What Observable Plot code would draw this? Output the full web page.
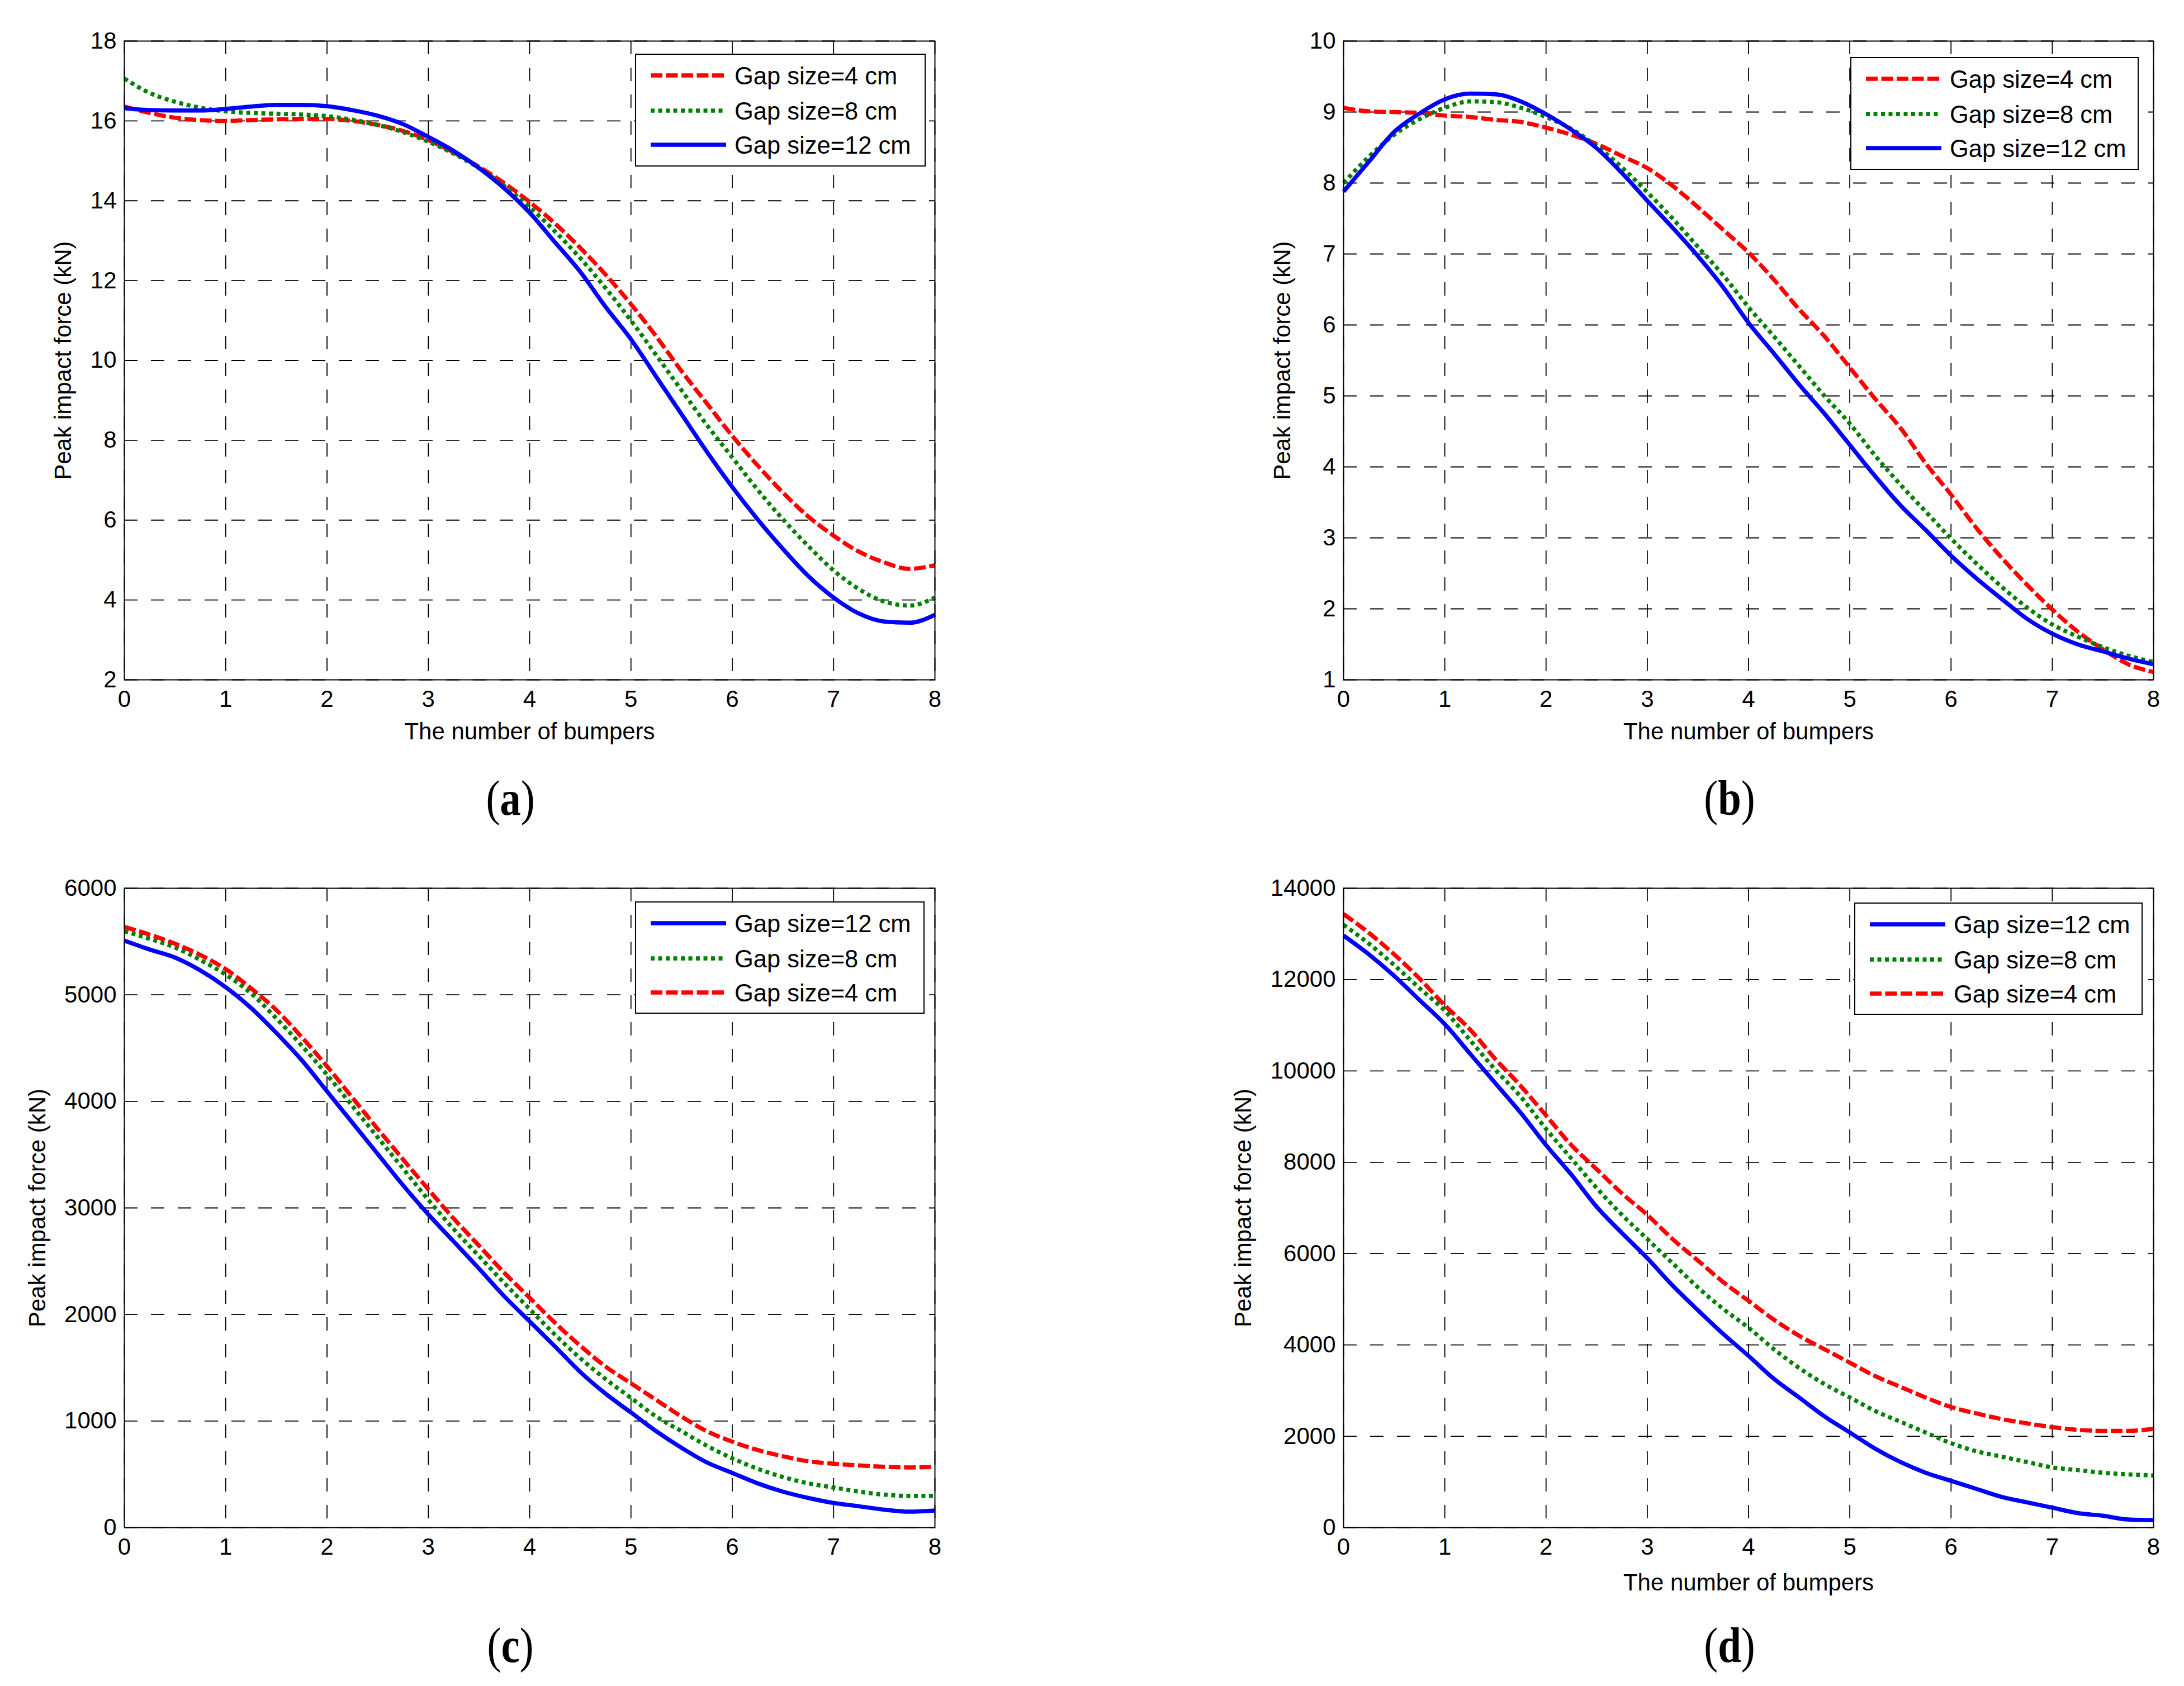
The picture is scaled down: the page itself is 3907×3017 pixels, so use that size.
<!DOCTYPE html>
<html><head><meta charset="utf-8">
<script src="https://cdn.jsdelivr.net/npm/d3@7"></script>
<script src="https://cdn.jsdelivr.net/npm/@observablehq/plot@0.6"></script>
<style>
html,body{margin:0;padding:0;background:#fff;}
#root{position:relative;width:3907px;height:3017px;background:#fff;overflow:hidden;}
#root > .panel{position:absolute;}
#root > svg.overlay{position:absolute;left:0;top:0;pointer-events:none;}
</style></head><body><div id="root"></div>
<script>
// ---------- data ----------
const xs = [0,0.25,0.5,0.75,1,1.25,1.5,1.75,2,2.25,2.5,2.75,3,3.25,3.5,3.75,4,4.25,4.5,4.75,5,5.25,5.5,5.75,6,6.25,6.5,6.75,7,7.25,7.5,7.75,8];
const xTicks = [0,1,2,3,4,5,6,7,8];

// (a)
const aGap4  = [16.36,16.2,16.08,16.02,16.0,16.02,16.04,16.05,16.05,16.0,15.9,15.75,15.52,15.21,14.85,14.44,13.97,13.43,12.82,12.15,11.41,10.6,9.73,8.92,8.11,7.37,6.69,6.09,5.61,5.21,4.94,4.78,4.87];
const aGap8  = [17.06,16.7,16.48,16.33,16.24,16.2,16.18,16.16,16.12,16.03,15.9,15.72,15.48,15.18,14.82,14.37,13.84,13.23,12.56,11.81,11.0,10.13,9.25,8.38,7.57,6.76,6.02,5.35,4.74,4.27,3.96,3.86,4.06];
const aGap12 = [16.32,16.27,16.26,16.26,16.3,16.36,16.4,16.4,16.37,16.27,16.13,15.92,15.6,15.25,14.82,14.31,13.7,12.96,12.22,11.34,10.53,9.59,8.65,7.71,6.83,6.02,5.28,4.6,4.06,3.66,3.46,3.43,3.63];
const aYTicks = [2,4,6,8,10,12,14,16,18];

// (b)
const bGap4  = [9.06,9.01,9.0,8.99,8.95,8.93,8.89,8.86,8.78,8.68,8.55,8.38,8.21,7.96,7.66,7.34,7.02,6.64,6.22,5.84,5.40,4.96,4.55,4.05,3.61,3.14,2.72,2.34,1.99,1.68,1.43,1.22,1.11];
const bGap8  = [8.0,8.37,8.68,8.9,9.06,9.15,9.14,9.06,8.93,8.76,8.52,8.22,7.87,7.5,7.1,6.7,6.25,5.84,5.42,5.0,4.61,4.16,3.75,3.37,2.99,2.64,2.31,2.02,1.78,1.61,1.46,1.34,1.25];
const bGap12 = [7.88,8.3,8.72,8.98,9.18,9.26,9.25,9.15,8.97,8.75,8.49,8.14,7.75,7.37,6.97,6.53,6.03,5.6,5.16,4.75,4.31,3.87,3.46,3.11,2.75,2.43,2.14,1.86,1.65,1.5,1.4,1.3,1.22];
const bYTicks = [1,2,3,4,5,6,7,8,9,10];

// (c)
const cGap12 = [5508,5425,5350,5229,5072,4877,4642,4387,4094,3800,3507,3213,2939,2685,2431,2170,1935,1700,1460,1256,1080,904,748,611,513,415,337,278,231,200,168,149,160];
const cGap8  = [5596,5525,5444,5327,5190,5014,4779,4524,4250,3957,3663,3370,3076,2802,2548,2294,2050,1810,1589,1393,1217,1041,904,767,650,552,474,415,376,337,309,297,297];
const cGap4  = [5637,5565,5480,5374,5241,5061,4857,4603,4329,4035,3742,3456,3174,2900,2646,2391,2157,1922,1706,1511,1354,1198,1041,904,806,728,669,622,599,583,571,564,571];
const cYTicks = [0,1000,2000,3000,4000,5000,6000];

// (d)
const dGap12 = [12965,12553,12082,11553,11024,10376,9729,9082,8376,7729,7024,6450,5900,5300,4760,4240,3760,3259,2847,2435,2082,1729,1435,1200,1024,847,671,553,435,318,259,176,165];
const dGap8  = [13200,12788,12318,11812,11318,10671,10024,9435,8729,8082,7435,6847,6318,5788,5259,4788,4376,3906,3494,3141,2850,2553,2318,2082,1847,1671,1553,1435,1318,1259,1200,1165,1141];
const dGap4  = [13435,13024,12553,12024,11435,10906,10259,9671,9024,8376,7847,7318,6847,6318,5847,5376,4965,4553,4200,3906,3612,3318,3082,2847,2640,2500,2376,2282,2200,2141,2118,2118,2165];
const dYTicks = [0,2000,4000,6000,8000,10000,12000,14000];

const seriesNames = {g4: "Gap size=4 cm", g8: "Gap size=8 cm", g12: "Gap size=12 cm"};
const xLabel = "The number of bumpers";
const yLabel = "Peak impact force (kN)";

// ---------- styles / layout ----------
const seriesStyle = {
  g4:  {stroke: "#ff0000", dash: "21,6.5"},
  g8:  {stroke: "#008000", dash: "7,6.5"},
  g12: {stroke: "#0000ff", dash: null}
};
const FONT = "'Liberation Sans', Arial, Helvetica, sans-serif";

const panels = [
  {tag: "a", series: {g4: aGap4, g8: aGap8, g12: aGap12}, order: ["g4","g8","g12"], yDomain: [2,18], yTicks: aYTicks,
   left: 0, top: 0, w: 1954, h: 1508, m: {l: 222, t: 73, r: 282, b: 292}, ylabDx: -109, xlabDy: 93,
   legend: {x: 1137, y: 97, w: 518, h: 200}, cap: {x: 913, y: 1458}},
  {tag: "b", series: {g4: bGap4, g8: bGap8, g12: bGap12}, order: ["g4","g8","g12"], yDomain: [1,10], yTicks: bYTicks,
   left: 1954, top: 0, w: 1953, h: 1508, m: {l: 449, t: 73, r: 55, b: 292}, ylabDx: -109, xlabDy: 93,
   legend: {x: 3311, y: 103, w: 514, h: 200}, cap: {x: 3094, y: 1458}},
  {tag: "c", series: {g12: cGap12, g8: cGap8, g4: cGap4}, order: ["g12","g8","g4"], yDomain: [0,6000], yTicks: cYTicks,
   left: 0, top: 1508, w: 1954, h: 1509, m: {l: 222, t: 81, r: 282, b: 284}, ylabDx: -155, xlabDy: null,
   legend: {x: 1137, y: 1614, w: 516, h: 199}, cap: {x: 913, y: 2974}},
  {tag: "d", series: {g12: dGap12, g8: dGap8, g4: dGap4}, order: ["g12","g8","g4"], yDomain: [0,14000], yTicks: dYTicks,
   left: 1954, top: 1508, w: 1953, h: 1509, m: {l: 449, t: 81, r: 55, b: 284}, ylabDx: -179, xlabDy: 99,
   legend: {x: 3318, y: 1616, w: 514, h: 199}, cap: {x: 3094, y: 2974}}
];

const root = document.getElementById("root");

for (const p of panels) {
  const lines = p.order.map(k => {
    const rows = xs.map((x, i) => ({x, y: p.series[k][i]}));
    const st = seriesStyle[k];
    return Plot.line(rows, {x: "x", y: "y", stroke: st.stroke, strokeWidth: 7.5,
      strokeDasharray: st.dash || undefined, strokeLinecap: "butt", strokeLinejoin: "round", curve: "monotone-x"});
  });
  const marks = [
    Plot.gridX(xTicks, {stroke: "black", strokeOpacity: 1, strokeWidth: 1.8, strokeDasharray: "24,24"}),
    Plot.gridY(p.yTicks, {stroke: "black", strokeOpacity: 1, strokeWidth: 1.8, strokeDasharray: "24,24"}),
    ...lines,
    Plot.frame({stroke: "black", strokeWidth: 2}),
    Plot.axisX(xTicks, {tickSize: 0, tickPadding: 19, fontSize: 42, label: null, tickFormat: d => String(d)}),
    Plot.axisY(p.yTicks, {tickSize: 0, tickPadding: 14, fontSize: 42, label: null, tickFormat: d => String(d)}),
    Plot.text([yLabel], {frameAnchor: "left", dx: p.ylabDx, rotate: -90, textAnchor: "middle", lineAnchor: "middle", fontSize: 42, fill: "black"})
  ];
  if (p.xlabDy != null) {
    marks.push(Plot.text([xLabel], {frameAnchor: "bottom", dy: p.xlabDy, textAnchor: "middle", lineAnchor: "middle", fontSize: 42, fill: "black"}));
  }
  const chart = Plot.plot({
    width: p.w, height: p.h,
    marginLeft: p.m.l, marginTop: p.m.t, marginRight: p.m.r, marginBottom: p.m.b,
    x: {domain: [0, 8]},
    y: {domain: p.yDomain},
    style: {fontFamily: FONT, fontSize: "42px", color: "black", background: "white", overflow: "visible"},
    marks
  });
  chart.classList.add("panel");
  chart.style.left = p.left + "px";
  chart.style.top = p.top + "px";
  root.appendChild(chart);
}

// ---------- legends and captions overlay ----------
const overlay = d3.create("svg").attr("class", "overlay").attr("width", 3907).attr("height", 3017);
const rowOffsets = [38, 101, 162];
for (const p of panels) {
  const L = p.legend;
  const g = overlay.append("g").attr("transform", `translate(${L.x},${L.y})`);
  g.append("rect").attr("x", 0).attr("y", 0).attr("width", L.w).attr("height", L.h)
    .attr("fill", "white").attr("stroke", "black").attr("stroke-width", 2);
  p.order.forEach((k, i) => {
    const st = seriesStyle[k];
    const cy = rowOffsets[i];
    g.append("line").attr("x1", 27).attr("x2", 162).attr("y1", cy).attr("y2", cy)
      .attr("stroke", st.stroke).attr("stroke-width", 7.5)
      .attr("stroke-dasharray", st.dash || null).attr("stroke-linecap", "butt");
    g.append("text").attr("x", 177).attr("y", cy + 15.5)
      .attr("font-family", FONT).attr("font-size", 43.5).attr("fill", "black")
      .text(seriesNames[k]);
  });
  const cap = overlay.append("text")
    .attr("transform", `translate(${p.cap.x},${p.cap.y}) scale(0.85,1)`)
    .attr("text-anchor", "middle")
    .attr("font-family", "'Liberation Serif', 'Times New Roman', serif")
    .attr("font-size", 88).attr("fill", "black");
  cap.append("tspan").text("(");
  cap.append("tspan").attr("font-weight", "bold").text(p.tag);
  cap.append("tspan").text(")");
}
root.appendChild(overlay.node());
</script>
</body></html>
